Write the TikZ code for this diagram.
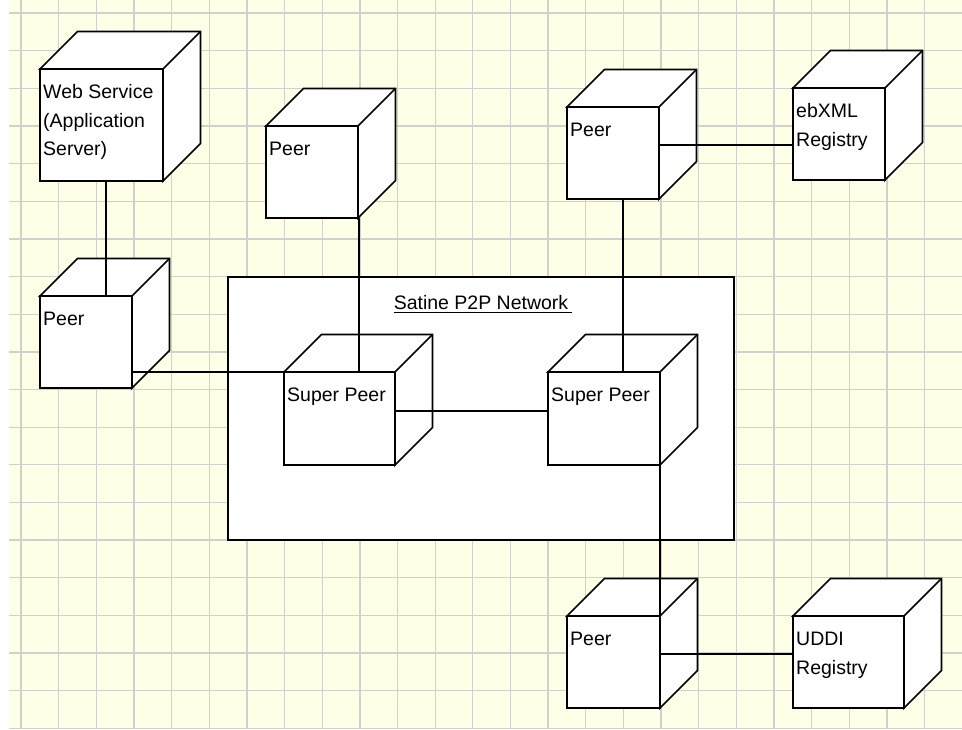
\documentclass[tikz,border=0pt]{standalone}
\usepackage{fontspec}
\setmainfont{Liberation Sans}
\usetikzlibrary{calc}

\definecolor{paper}{RGB}{255,255,232}
\definecolor{gridgray}{RGB}{210,208,204}

% A deployment node drawn as a box in oblique projection:
% #1 name, #2 x, #3 y (front face, top-left), #4 width, #5 height, #6 label lines
\newcommand\devbox[6]{%
  \draw[face] (#2,#3) -- ++(37.5,-37.5) -- ++(#4,0) -- ++(0,#5)
              -- ++(-37.5,37.5) -- ++(0,-#5) -- cycle;
  \draw[face] (#2+#4,#3) -- ++(37.5,-37.5);
  \node[frontface, minimum width=#4pt, minimum height=#5pt] (#1) at (#2,#3) {};
  \node[boxlabel] (#1-label) at ([xshift=3pt,yshift=-29.5pt]#1.north west)
       {\begin{tabular}[t]{@{}l@{}}#6\end{tabular}};
}

\begin{document}
\begin{tikzpicture}[x=1pt,y=-1pt,
  wire/.style={line width=1.7pt, draw=black},
  face/.style={draw=black, line width=1.7pt, fill=white, line join=miter},
  frontface/.style={face, anchor=north west, inner sep=0pt, outer sep=0pt},
  boxlabel/.style={anchor=base west, inner sep=0pt,
                   font=\fontsize{19.5}{28.5}\selectfont},
  gridline/.style={draw=gridgray, line width=1.3pt},
]
\useasboundingbox (0,0) rectangle (962,729);

% squared paper background
\fill[white] (0,0) rectangle (962,729);
\fill[paper] (9,0) rectangle (962,729);
\foreach \k in {0,...,24}
  \draw[gridline] ({21+37.65*\k},0) -- ({21+37.65*\k},729);
\foreach \k in {0,...,19}
  \draw[gridline] (9,{13+37.65*\k}) -- (962,{13+37.65*\k});

% the P2P network frame
\node[draw=black, line width=1.7pt, fill=white, anchor=north west,
      inner sep=0pt, outer sep=0pt, minimum width=506pt, minimum height=263pt]
     (net) at (228,277) {};
\node[anchor=base, inner sep=0pt, font=\fontsize{19.5}{24}\selectfont]
     (nettitle) at ([yshift=-32pt]net.north) {Satine P2P Network};
\draw[line width=1.7pt] ([yshift=-3.5pt]nettitle.base west)
     -- ([xshift=4pt,yshift=-3.5pt]nettitle.base east);

% nodes
\devbox{ws}{40}{69}{123}{112}{Web Service\\(Application\\Server)}
\devbox{pl}{40}{296}{92}{92}{Peer}
\devbox{pm}{266}{126}{92}{92}{Peer}
\devbox{pr}{567}{107}{92}{92}{Peer}
\devbox{eb}{793}{88}{92}{92}{ebXML\\Registry}
\devbox{sl}{284}{372}{111}{93}{Super Peer}
\devbox{sr}{548}{372}{112}{93}{Super Peer}
\devbox{pb}{567}{616}{93}{92}{Peer}
\devbox{ud}{793}{616}{111}{92}{UDDI\\Registry}

% connections
\draw[wire] ([xshift=66pt]ws.south west) -- ([xshift=66pt]pl.north west);
\draw[wire] (sl.north west) -- (sl.north west -| pl.east);
\draw[wire] ([xshift=1pt]pm.south east) -- ([xshift=1pt]pm.south east |- sl.north);
\draw[wire] ([yshift=-39pt]sl.north east) -- ([yshift=-39pt]sl.north east -| sr.west);
\draw[wire] ([xshift=56pt]pr.south west) -- ([xshift=56pt]pr.south west |- sr.north);
\draw[wire] (sr.south east) -- (pb.north east);
\draw[wire] ([yshift=-38pt]pr.north east) -- ([yshift=-38pt]pr.north east -| eb.west);
\draw[wire] ([yshift=-38pt]pb.north east) -- ([yshift=-38pt]pb.north east -| ud.west);
\end{tikzpicture}
\end{document}
